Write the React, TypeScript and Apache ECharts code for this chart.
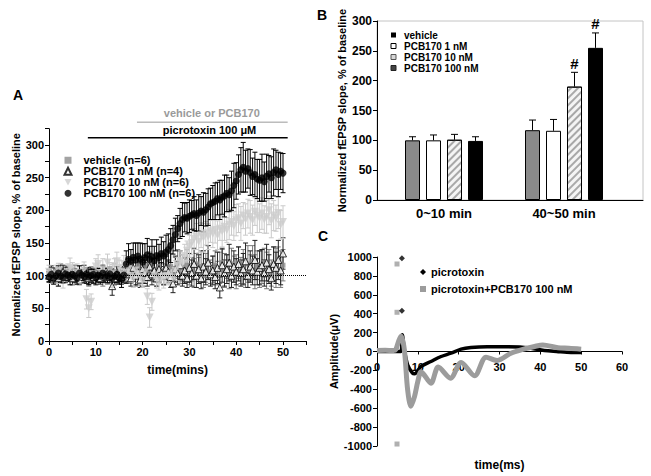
import React, { useEffect, useRef } from 'react';
import * as echarts from 'echarts';

const FONT = '"Liberation Sans", Arial, Helvetica, sans-serif';

// ---------------- Panel A : time course (0.5 min sampling) ----------------
const A_TIME = Array.from({ length: 101 }, (_, i) => i / 2);

const vehicleMean = [
  102, 98, 104, 100, 96, 110, 100, 98, 104, 100, 102, 96, 100, 104, 98, 102, 100, 96, 104, 100, 98,
  102, 100, 96, 104, 98, 100, 102, 106, 98, 104, 100, 102,
  106, 112, 104, 110, 102, 115, 108, 100, 112, 106, 118, 104, 110, 98, 114, 108, 102, 112,
  106, 114, 100, 110, 118, 104, 112, 108, 116, 102,
  110, 104, 118, 108, 114, 100, 112, 120, 106, 110,
  116, 104, 112, 120, 108, 114, 102, 118, 110, 106,
  120, 108, 114, 104, 118, 112, 122, 106, 116, 110,
  114, 120, 108, 116, 104, 118, 112, 122, 110, 116,
];
const vehicleErr = [
  8, 10, 7, 9, 12, 8, 10, 9, 11, 8, 10, 9, 8, 11, 9, 10, 8, 12, 9, 10, 8,
  10, 9, 12, 8, 11, 10, 9, 12, 10, 8, 11, 9,
  14, 12, 16, 10, 18, 14, 12, 16, 20, 14, 18, 12, 16, 14, 20, 12, 16, 18,
  16, 20, 14, 18, 22, 16, 20, 18, 24, 16,
  18, 22, 16, 20, 24, 18, 22, 26, 18, 20,
  22, 18, 24, 20, 26, 18, 22, 24, 20, 26,
  24, 20, 26, 22, 28, 20, 24, 26, 22, 28,
  26, 22, 28, 24, 20, 26, 30, 22, 28, 24,
];
const pcb1Mean = [
  100, 104, 98, 102, 96, 100, 106, 98, 102, 100, 96, 104, 100, 98, 102, 106, 100, 96, 102, 98, 104,
  100, 96, 102, 98, 104, 100, 84, 96, 102, 100, 98, 104,
  102, 108, 96, 112, 100, 106, 94, 110, 104, 98, 114, 102, 108, 96, 110, 104, 100, 112,
  106, 98, 88, 110, 104, 116, 100, 108, 96, 112,
  104, 118, 100, 110, 96, 114, 106, 120, 102, 108,
  98, 112, 82, 116, 104, 110, 120, 100, 114, 106,
  118, 104, 110, 122, 100, 114, 108, 124, 106, 112,
  116, 104, 120, 110, 96, 118, 112, 124, 108, 134,
];
const pcb1Err = [
  9, 11, 8, 10, 12, 9, 10, 8, 11, 9, 10, 12, 9, 11, 8, 10, 12, 9, 11, 10, 8,
  11, 9, 12, 10, 8, 11, 14, 10, 12, 9, 11, 10,
  14, 18, 12, 16, 14, 20, 12, 18, 16, 14, 20, 16, 18, 12, 20, 16, 14, 18,
  18, 16, 14, 20, 18, 22, 16, 20, 14, 22,
  20, 24, 18, 22, 16, 24, 20, 26, 18, 22,
  18, 24, 16, 26, 20, 22, 28, 18, 24, 20,
  26, 20, 24, 28, 18, 24, 22, 30, 20, 26,
  24, 20, 28, 22, 18, 26, 24, 30, 22, 24,
];
const pcb10Mean = [
  106, 100, 96, 102, 108, 98, 94, 100, 106, 112, 110, 98, 104, 95, 100, 108, 64, 50, 60, 102, 114,
  118, 104, 110, 98, 120, 108, 102, 115, 122, 112, 106, 118,
  104, 110, 100, 96, 108, 102, 98, 92, 105, 68, 36, 60, 100, 95, 90, 98, 94, 100,
  98, 102, 96, 108, 115, 122, 118, 130, 138, 145,
  150, 156, 160, 152, 162, 158, 165, 160, 168, 164,
  170, 162, 172, 168, 175, 170, 178, 182, 176, 185,
  188, 180, 192, 186, 195, 190, 185, 198, 192, 188,
  195, 186, 190, 200, 184, 192, 188, 196, 178, 182,
];
const pcb10Err = [
  10, 12, 9, 14, 11, 10, 13, 9, 12, 15, 10, 12, 14, 10, 11, 13, 15, 14, 12, 10, 12,
  14, 11, 16, 10, 13, 12, 15, 11, 14, 12, 10, 13,
  12, 15, 10, 14, 11, 13, 12, 10, 14, 12, 15, 13, 11, 14, 12, 10, 13, 12,
  12, 14, 11, 15, 13, 16, 14, 18, 15, 17,
  18, 16, 20, 17, 19, 22, 18, 20, 17, 21,
  20, 22, 18, 24, 21, 19, 23, 20, 22, 24,
  22, 26, 20, 24, 22, 25, 23, 21, 26, 22,
  24, 21, 25, 22, 26, 23, 20, 24, 22, 25,
];
const pcb100Mean = [
  98, 102, 96, 100, 104, 99, 97, 103, 101, 98, 102, 100, 96, 104, 101, 99, 103, 98, 100, 102, 97,
  101, 99, 104, 98, 100, 103, 96, 99, 102, 97, 95, 101,
  118, 125, 122, 128, 124, 130, 126, 121, 127, 132, 125, 129, 123, 131, 128, 134, 130, 136,
  140, 146, 155, 163, 172, 180, 186, 189, 188, 191,
  193, 195, 192, 196, 199, 197, 201, 205, 210, 212,
  214, 218, 216, 220, 222, 226, 224, 230, 238, 245,
  255, 262, 266, 260, 264, 258, 252, 255, 248, 246,
  250, 244, 252, 256, 250, 258, 262, 255, 260, 257,
];
const pcb100Err = [
  8, 10, 9, 7, 11, 9, 8, 10, 9, 12, 8, 10, 9, 11, 8, 10, 9, 12, 10, 8, 11,
  10, 9, 12, 8, 11, 10, 14, 9, 12, 10, 13, 11,
  20, 24, 18, 22, 26, 20, 24, 28, 22, 25, 20, 26, 22, 24, 20, 25, 22, 26,
  24, 26, 22, 25, 20, 23, 26, 22, 24, 25,
  22, 26, 24, 28, 22, 30, 25, 28, 24, 26,
  28, 25, 30, 26, 32, 28, 26, 30, 34, 28,
  30, 34, 38, 32, 30, 35, 28, 34, 30, 32,
  36, 30, 34, 28, 32, 36, 30, 34, 28, 30,
];
const A_NAMES = ['vehicle (n=6)', 'PCB170 1 nM (n=4)', 'PCB170 10 nM (n=6)', 'PCB170 100 nM (n=6)'];
const BASELINE = 100;
// drug application bars
const TREATMENTS = [
  { label: 'picrotoxin 100 \u03bcM', start: 8.3, end: 51, level: 311, textLevel: 323, textAt: 34.3, color: '#000', width: 1.5 },
  { label: 'vehicle or PCB170', start: 18.8, end: 51, level: 335, textLevel: 349, textAt: 34.8, color: '#9a9a9a', width: 1 },
];

// ---------------- Panel B : summary bars ----------------
const B_CATS = ['0~10 min', '40~50 min'];
const B_NAMES = ['vehicle', 'PCB170 1 nM', 'PCB170 10 nM', 'PCB170 100 nM'];
const bVehicle = [100, 117];
const bVehicleErr = [6, 17];
const bPcb1 = [100, 116];
const bPcb1Err = [9, 19];
const bPcb10 = [101, 190];
const bPcb10Err = [9, 24];
const bPcb100 = [99, 255];
const bPcb100Err = [7, 25];
const bSig = [['', ''], ['', ''], ['', '#'], ['', '#']];

// ---------------- Panel C : traces ----------------
const C_MIN = -1000;
const C_MAX = 1000;
const cGrayT = [0, 2, 4, 4.6, 5.3, 5.9, 6.7, 7.5, 8.3, 9.2, 10, 10.8, 13.2, 15, 18, 20.6, 23.9, 26.7, 29.4, 32.8, 35.3, 38.6, 40.6, 44.3, 47, 50];
const cGrayV = [10, 12, 10, 20, 110, 165, 18, -405, -580, -475, -317, -215, -335, -165, -282, -116, -257, -60, -95, -18, 18, 53, 70, 40, 35, 25];
const cBlackT = [0, 2, 4, 5.8, 6.2, 6.7, 7.5, 8.7, 9.2, 10.8, 13.2, 15.7, 18.1, 20.6, 23, 27, 31, 35, 37.7, 41, 44, 47.5, 50];
const cBlackV = [0, 0, 0, 0, 176, 18, -141, -229, -236, -158, -106, -53, -18, 25, 42, 50, 50, 48, 35, 10, 0, -10, -10];
const cGrayArtT = [4.9, 4.9, 4.9];
const cGrayArtV = [926, 415, -979];
const cBlackArtT = [6.1, 6.1];
const cBlackArtV = [986, 430];
const C_NAMES = ['picrotoxin', 'picrotoxin+PCB170 100 nM'];

const bold = (size: number, color = '#000') => ({ fontFamily: FONT, fontSize: size, fontWeight: 'bold' as const, color });

function errRenderA(color: string) {
  return (params: any, api: any) => {
    const t = api.value(0), m = api.value(1), e = api.value(2);
    const hi = api.coord([t, m + e]);
    const lo = api.coord([t, m - e]);
    const w = 2.5;
    const style = { stroke: color, lineWidth: 1 };
    return {
      type: 'group',
      children: [
        { type: 'line', shape: { x1: hi[0], y1: hi[1], x2: lo[0], y2: lo[1] }, style },
        { type: 'line', shape: { x1: hi[0] - w, y1: hi[1], x2: hi[0] + w, y2: hi[1] }, style },
        { type: 'line', shape: { x1: lo[0] - w, y1: lo[1], x2: lo[0] + w, y2: lo[1] }, style },
      ],
    };
  };
}

const BAR_W = 15;
const BAR_GAP = 0.4;
function errRenderB(k: number) {
  return (params: any, api: any) => {
    const cat = api.value(0), m = api.value(1), e = api.value(2);
    const top = api.coord([cat, m + e]);
    const base = api.coord([cat, m]);
    const x = top[0] + (k - 1.5) * BAR_W * (1 + BAR_GAP);
    const style = { stroke: '#000', lineWidth: 1 };
    const children: any[] = [
      { type: 'line', shape: { x1: x, y1: base[1], x2: x, y2: top[1] }, style },
      { type: 'line', shape: { x1: x - 3.5, y1: top[1], x2: x + 3.5, y2: top[1] }, style },
    ];
    const s = bSig[k][params.dataIndex];
    if (s) {
      children.push({
        type: 'text',
        style: { text: s, x, y: top[1] - 9, align: 'center', verticalAlign: 'middle', font: `bold 15px ${FONT}`, fill: '#000' },
      });
    }
    return { type: 'group', children };
  };
}

export default function App() {
  const ref = useRef<HTMLDivElement>(null);
  useEffect(() => {
    const chart = echarts.init(ref.current!, null, { renderer: 'svg' });

    const aMeans = [vehicleMean, pcb1Mean, pcb10Mean, pcb100Mean];
    const aErrs = [vehicleErr, pcb1Err, pcb10Err, pcb100Err];
    const aSymbols = ['rect', 'triangle', 'path://M0,0L10,0L5,9Z', 'circle'];
    const aSizes = [5, 7, 8, 7];
    const aStyles = [
      { color: '#8c8c8c' },
      { color: '#fff', borderColor: '#000', borderWidth: 1 },
      { color: '#cdcdcd' },
      { color: '#000' },
    ];
    const aErrColors = ['#7a7a7a', '#222', '#cacaca', '#000'];

    const aSeries: any[] = [];
    aMeans.forEach((means, k) => {
      aSeries.push({
        type: 'custom',
        name: A_NAMES[k] + ' SEM',
        xAxisIndex: 0,
        yAxisIndex: 0,
        renderItem: errRenderA(aErrColors[k]),
        data: A_TIME.map((t, i) => [t, means[i], aErrs[k][i]]),
        encode: { x: 0, y: 1 },
        silent: true,
      });
      const s: any = {
        type: 'scatter',
        name: A_NAMES[k],
        xAxisIndex: 0,
        yAxisIndex: 0,
        symbol: aSymbols[k],
        symbolSize: aSizes[k],
        itemStyle: aStyles[k],
        data: A_TIME.map((t, i) => [t, means[i]]),
        silent: true,
      };
      if (k === 0) {
        s.markLine = {
          silent: true,
          symbol: 'none',
          label: { show: false },
          lineStyle: { type: 'dotted', color: '#000', width: 1 },
          data: [{ yAxis: BASELINE }],
        };
      }
      aSeries.push(s);
    });

    const bMeans = [bVehicle, bPcb1, bPcb10, bPcb100];
    const bErrs = [bVehicleErr, bPcb1Err, bPcb10Err, bPcb100Err];
    const bStyles = [
      { color: '#8a8a8a', borderColor: '#000', borderWidth: 1 },
      { color: '#fff', borderColor: '#000', borderWidth: 1 },
      {
        color: '#f4f4f4', borderColor: '#000', borderWidth: 1,
        decal: { symbol: 'rect', symbolSize: 1, dashArrayX: [1, 0], dashArrayY: [1.5, 2.5], rotation: -Math.PI / 4, color: '#a8a8a8' },
      },
      { color: '#000', borderColor: '#000', borderWidth: 1 },
    ];
    const bSeries: any[] = [];
    bMeans.forEach((vals, k) => {
      bSeries.push({
        type: 'bar',
        name: B_NAMES[k],
        xAxisIndex: 2,
        yAxisIndex: 2,
        barWidth: BAR_W,
        barGap: `${BAR_GAP * 100}%`,
        itemStyle: bStyles[k],
        data: vals,
        silent: true,
      });
    });
    bMeans.forEach((vals, k) => {
      bSeries.push({
        type: 'custom',
        name: B_NAMES[k] + ' SEM',
        xAxisIndex: 2,
        yAxisIndex: 2,
        renderItem: errRenderB(k),
        data: vals.map((v, i) => [i, v, bErrs[k][i]]),
        encode: { x: 0, y: 1 },
        z: 5,
        silent: true,
      });
    });

    const cSeries: any[] = [
      {
        type: 'line', name: C_NAMES[0], xAxisIndex: 3, yAxisIndex: 3, showSymbol: false, smooth: 0.3,
        lineStyle: { color: '#000', width: 3.5 }, itemStyle: { color: '#000' },
        data: cBlackT.map((t, i) => [t, cBlackV[i]]), silent: true,
      },
      {
        type: 'line', name: C_NAMES[1], xAxisIndex: 3, yAxisIndex: 3, showSymbol: false, smooth: 0.3,
        lineStyle: { color: '#9c9c9c', width: 5 }, itemStyle: { color: '#9c9c9c' },
        data: cGrayT.map((t, i) => [t, cGrayV[i]]), silent: true,
      },
      {
        type: 'scatter', name: C_NAMES[1], xAxisIndex: 3, yAxisIndex: 3, symbol: 'rect', symbolSize: 5,
        itemStyle: { color: '#9c9c9c' }, data: cGrayArtT.map((t, i) => [t, cGrayArtV[i]]), silent: true,
      },
      {
        type: 'scatter', name: C_NAMES[0], xAxisIndex: 3, yAxisIndex: 3, symbol: 'diamond', symbolSize: 6,
        itemStyle: { color: '#000' }, data: cBlackArtT.map((t, i) => [t, cBlackArtV[i]]), silent: true,
      },
    ];

    const axisLine = { show: true, onZero: false, lineStyle: { color: '#000', width: 1 } };
    const noSplit = { show: false };
    const gridBase = { containLabel: false, outerBoundsMode: 'none' };
    const C_TOP = 257;
    const C_H = 189;
    // x axis of panel C crosses the value axis at 0
    const cZeroOffset = -C_H * (0 - C_MIN) / (C_MAX - C_MIN);
    const plain = (v: number) => String(v);

    chart.setOption({
      animation: false,
      backgroundColor: '#fff',
      textStyle: { fontFamily: FONT },
      grid: [
        { ...gridBase, left: 49, top: 128.7, width: 257.4, height: 212.3 },
        { ...gridBase, left: 377, top: 21, width: 266, height: 179, show: true, borderColor: '#c4c4c4', borderWidth: 1, backgroundColor: 'transparent' },
        { ...gridBase, left: 384, top: 21, width: 240, height: 179 },
        { ...gridBase, left: 377, top: C_TOP, width: 245, height: C_H },
      ],
      xAxis: [
        {
          gridIndex: 0, type: 'value', min: 0, max: 55, interval: 5,
          axisLine, axisTick: { show: true, length: 4, lineStyle: { color: '#000' } },
          axisLabel: { ...bold(11), margin: 5, formatter: (v: number) => (v % 10 === 0 ? String(v) : '') },
          splitLine: noSplit,
          name: 'time(mins)', nameLocation: 'middle', nameGap: 23, nameTextStyle: bold(12),
        },
        {
          gridIndex: 1, type: 'value', min: 0, max: 1,
          axisLine, axisTick: { show: false }, axisLabel: { show: false }, splitLine: noSplit,
        },
        {
          gridIndex: 2, type: 'category', data: B_CATS,
          axisLine: { show: false }, axisTick: { show: false },
          axisLabel: { ...bold(13), margin: 7 },
        },
        {
          gridIndex: 3, type: 'value', min: 0, max: 60, interval: 10, offset: cZeroOffset,
          axisLine, axisTick: { show: true, length: 3, lineStyle: { color: '#000' } },
          axisLabel: { ...bold(11), margin: 10, formatter: plain },
          splitLine: noSplit,
          name: 'time(ms)', nameLocation: 'middle', nameGap: 107, nameTextStyle: bold(12),
        },
      ],
      yAxis: [
        {
          gridIndex: 0, type: 'value', min: 0, max: 325, interval: 25,
          axisLine, axisTick: { show: true, length: 4, lineStyle: { color: '#000' } },
          axisLabel: { ...bold(11), margin: 5, formatter: (v: number) => (v % 50 === 0 && v <= 300 ? String(v) : '') },
          splitLine: noSplit,
          name: 'Normalized fEPSP slope, % of baseline', nameLocation: 'middle', nameGap: 28, nameRotate: 90,
          nameTextStyle: bold(11),
        },
        {
          gridIndex: 1, type: 'value', min: 0, max: 300, interval: 50,
          axisLine, axisTick: { show: true, length: 4, lineStyle: { color: '#000' } },
          axisLabel: { ...bold(12), margin: 5 },
          splitLine: noSplit,
          name: 'Normalized fEPSP slope, % of baseline', nameLocation: 'middle', nameGap: 30, nameRotate: 90,
          nameTextStyle: bold(11),
        },
        { gridIndex: 2, type: 'value', min: 0, max: 300, show: false, splitLine: noSplit },
        {
          gridIndex: 3, type: 'value', min: C_MIN, max: C_MAX, interval: 200,
          axisLine, axisTick: { show: true, length: 4, lineStyle: { color: '#000' } },
          axisLabel: { ...bold(11), margin: 5, formatter: plain },
          splitLine: noSplit,
          name: 'Amplitude(\u03bcV)', nameLocation: 'middle', nameGap: 33, nameRotate: 90,
          nameTextStyle: bold(11),
        },
      ],
      legend: [
        {
          data: A_NAMES, orient: 'vertical', left: 63.5, top: 154.75, padding: 0,
          itemWidth: 7, itemHeight: 7, itemGap: 0, selectedMode: false,
          textStyle: { ...bold(11), lineHeight: 10.5, padding: [0, 0, 0, 7] },
        },
        {
          data: [
            { name: B_NAMES[0], icon: 'rect', itemStyle: { color: '#000', borderWidth: 0, decal: 'none' } },
            { name: B_NAMES[1], icon: 'rect', itemStyle: { color: '#fff', borderColor: '#000', borderWidth: 1, decal: 'none' } },
            { name: B_NAMES[2], icon: 'rect', itemStyle: { color: '#d6d6d6', borderColor: '#555', borderWidth: 1, decal: 'none' } },
            { name: B_NAMES[3], icon: 'rect', itemStyle: { color: '#444', borderColor: '#222', borderWidth: 1, decal: 'none' } },
          ],
          orient: 'vertical', left: 390.5, top: 29.5, padding: 0,
          itemWidth: 5, itemHeight: 5, itemGap: 0, selectedMode: false,
          textStyle: { ...bold(10), lineHeight: 11, padding: [0, 0, 0, 3] },
        },
        {
          data: [
            { name: C_NAMES[0], icon: 'diamond', itemStyle: { color: '#000' } },
            { name: C_NAMES[1], icon: 'rect', itemStyle: { color: '#9c9c9c' } },
          ],
          orient: 'vertical', left: 420, top: 266.5, padding: 0,
          itemWidth: 6, itemHeight: 6, itemGap: 6, selectedMode: false,
          textStyle: { ...bold(11), lineHeight: 11 },
        },
      ],
      series: [...aSeries, ...bSeries, ...cSeries],
    });

    const graphics: any[] = [
      { type: 'text', style: { text: 'A', x: 18, y: 95, align: 'center', verticalAlign: 'middle', font: `bold 14px ${FONT}`, fill: '#000' } },
      { type: 'text', style: { text: 'B', x: 322, y: 15, align: 'center', verticalAlign: 'middle', font: `bold 14px ${FONT}`, fill: '#000' } },
      { type: 'text', style: { text: 'C', x: 323, y: 236, align: 'center', verticalAlign: 'middle', font: `bold 14px ${FONT}`, fill: '#000' } },
    ];
    TREATMENTS.forEach((tr) => {
      const p0 = chart.convertToPixel({ gridIndex: 0 } as any, [tr.start, tr.level]) as number[];
      const p1 = chart.convertToPixel({ gridIndex: 0 } as any, [tr.end, tr.level]) as number[];
      const pt = chart.convertToPixel({ gridIndex: 0 } as any, [tr.textAt, tr.textLevel]) as number[];
      graphics.push({ type: 'line', shape: { x1: p0[0], y1: p0[1], x2: p1[0], y2: p1[1] }, style: { stroke: tr.color, lineWidth: tr.width } });
      graphics.push({
        type: 'text',
        style: { text: tr.label, x: pt[0], y: pt[1], align: 'center', verticalAlign: 'middle', font: `bold 11px ${FONT}`, fill: tr.color },
      });
    });
    chart.setOption({ graphic: graphics });

    return () => chart.dispose();
  }, []);

  return <div ref={ref} style={{ position: 'fixed', left: 0, top: 0, width: 651, height: 476, background: '#fff' }} />;
}
